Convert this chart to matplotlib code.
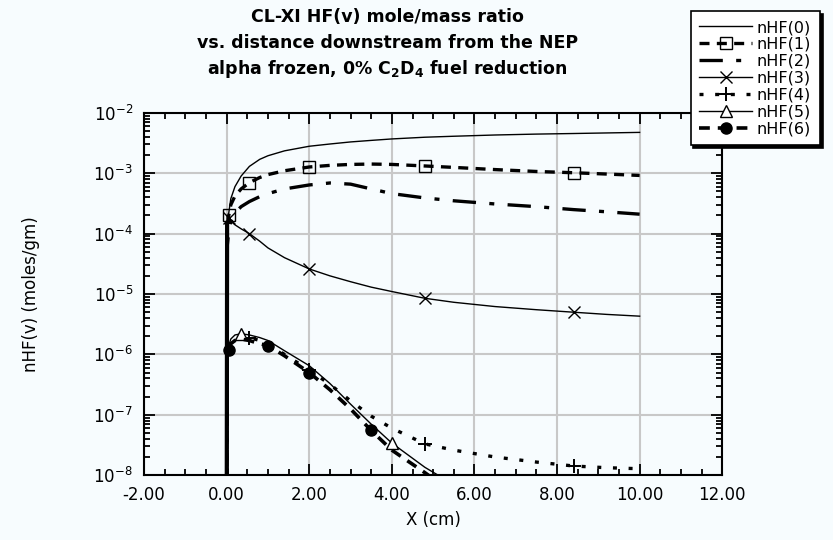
import numpy as np
import matplotlib.pyplot as plt
from matplotlib.ticker import MultipleLocator, FormatStrFormatter, LogLocator

# distance downstream (cm)
x = [0, 0.01, 0.05, 0.1, 0.2, 0.35, 0.55, 0.8, 1.0, 1.4, 2.0, 2.5, 3.0, 3.5,
     4.0, 4.8, 5.5, 6.5, 7.5, 8.4, 9.2, 10.0]

# HF(v) mole/mass ratio (moles/gm)
nhf0 = [1e-9, 1.2e-4, 2.2e-4, 3.8e-4, 6.0e-4, 9.0e-4, 1.3e-3, 1.7e-3, 1.95e-3, 2.35e-3,
        2.8e-3, 3.05e-3, 3.3e-3, 3.5e-3, 3.7e-3, 3.95e-3, 4.1e-3, 4.3e-3, 4.45e-3,
        4.55e-3, 4.65e-3, 4.75e-3]
nhf1 = [1e-9, 1.0e-4, 2.0e-4, 3.0e-4, 4.2e-4, 5.5e-4, 7.0e-4, 8.5e-4, 9.5e-4, 1.1e-3,
        1.27e-3, 1.35e-3, 1.4e-3, 1.42e-3, 1.4e-3, 1.32e-3, 1.25e-3, 1.15e-3, 1.07e-3,
        1.02e-3, 9.7e-4, 9.2e-4]
nhf2 = [1e-9, 6e-5, 1.1e-4, 1.6e-4, 2.2e-4, 2.8e-4, 3.4e-4, 4.1e-4, 4.6e-4, 5.5e-4,
        6.4e-4, 6.9e-4, 6.6e-4, 5.5e-4, 4.6e-4, 3.9e-4, 3.5e-4, 3.1e-4, 2.8e-4,
        2.5e-4, 2.3e-4, 2.1e-4]
nhf3 = [1e-9, 2.0e-4, 1.8e-4, 1.6e-4, 1.4e-4, 1.2e-4, 1.0e-4, 7.5e-5, 5.8e-5, 4.0e-5,
        2.6e-5, 2.0e-5, 1.6e-5, 1.3e-5, 1.1e-5, 8.5e-6, 7.3e-6, 6.2e-6, 5.5e-6,
        5.0e-6, 4.6e-6, 4.3e-6]
nhf4 = [1e-9, 1.0e-6, 1.3e-6, 1.6e-6, 1.9e-6, 2.0e-6, 1.9e-6, 1.7e-6, 1.5e-6, 1.0e-6,
        5.5e-7, 3.2e-7, 1.7e-7, 9.5e-8, 6.0e-8, 3.3e-8, 2.6e-8, 2.0e-8, 1.65e-8,
        1.42e-8, 1.33e-8, 1.28e-8]
nhf5 = [1e-9, 1.0e-6, 1.4e-6, 1.8e-6, 2.1e-6, 2.2e-6, 2.1e-6, 1.9e-6, 1.7e-6, 1.15e-6,
        6.5e-7, 3.3e-7, 1.5e-7, 7.0e-8, 3.4e-8, 1.35e-8, 7e-9, 3e-9, 1.5e-9,
        1e-9, 1e-9, 1e-9]
nhf6 = [1e-9, 9e-7, 1.2e-6, 1.5e-6, 1.7e-6, 1.8e-6, 1.7e-6, 1.5e-6, 1.4e-6, 9.5e-7,
        5.0e-7, 2.6e-7, 1.25e-7, 5.5e-8, 2.6e-8, 1.1e-8, 5e-9, 2e-9, 1e-9,
        1e-9, 1e-9, 1e-9]

labels = ["nHF(0)", "nHF(1)", "nHF(2)", "nHF(3)", "nHF(4)", "nHF(5)", "nHF(6)"]

bg = "#f7fcfe"
fig = plt.figure(figsize=(8.33, 5.40), dpi=100)
fig.patch.set_facecolor(bg)
ax = fig.add_axes([0.173, 0.120, 0.694, 0.671])
ax.set_facecolor(bg)

ax.plot(x, nhf0, color="k", lw=1.0, label=labels[0])
ax.plot(x, nhf1, color="k", lw=2.4, dashes=(3, 2.2), marker="s", ms=8, mfc="none",
        mew=1.0, markevery=[2, 6, 10, 15, 19], label=labels[1])
ax.plot(x, nhf2, color="k", lw=2.4, dashes=(7, 4, 1.5, 4), label=labels[2])
ax.plot(x, nhf3, color="k", lw=1.0, marker="x", ms=9, mew=1.0,
        markevery=[2, 6, 10, 15, 19], label=labels[3])
ax.plot(x, nhf4, color="k", lw=2.4, dashes=(1.2, 3.5), marker="+", ms=10, mew=1.4,
        markevery=[6, 10, 15, 19], label=labels[4])
ax.plot(x, nhf5, color="k", lw=1.0, marker="^", ms=8, mfc="white", mew=1.0,
        markevery=[5, 14], label=labels[5])
ax.plot(x, nhf6, color="k", lw=2.6, dashes=(3, 2.2), marker="o", ms=8,
        markevery=[2, 8, 10, 13], label=labels[6])
# the rise off the wall at x = 0 reads as one thick solid stroke
ax.plot(x[:2], [1e-9, 1.5e-4], color="k", lw=3.0)

ax.set_yscale("log")
ax.set_xlim(-2, 12)
ax.set_ylim(1e-8, 1e-2)
ax.xaxis.set_major_locator(MultipleLocator(2))
ax.xaxis.set_minor_locator(MultipleLocator(0.5))
ax.xaxis.set_major_formatter(FormatStrFormatter("%.2f"))
ax.yaxis.set_major_locator(LogLocator(base=10, numticks=10))
ax.yaxis.set_minor_locator(LogLocator(base=10, subs=np.arange(2, 10), numticks=10))
ax.tick_params(which="both", direction="in", top=True, right=True, width=1.3,
               labelsize=12, pad=8)
ax.tick_params(which="major", length=8)
ax.tick_params(which="minor", length=4)
ax.grid(True, which="major", color="#c8c8c8", lw=1.5)
ax.set_axisbelow(True)
for s in ax.spines.values():
    s.set_linewidth(1.5)

ax.set_xlabel("X (cm)", fontsize=12, labelpad=5)
ax.set_ylabel("nHF(v) (moles/gm)", fontsize=12, labelpad=38)

fig.text(0.465, 0.968, "CL-XI HF(v) mole/mass ratio", ha="center", va="center",
         fontsize=12.5, fontweight="bold")
fig.text(0.465, 0.921, "vs. distance downstream from the NEP", ha="center",
         va="center", fontsize=12.5, fontweight="bold")
fig.text(0.465, 0.872, r"alpha frozen, 0% C$_{\mathbf{2}}$D$_{\mathbf{4}}$ fuel reduction",
         ha="center", va="center", fontsize=12.5, fontweight="bold")

leg = fig.legend(loc="upper right", bbox_to_anchor=(0.994, 0.994), fontsize=11.5,
                 handlelength=3.3, numpoints=1, fancybox=False, framealpha=1,
                 edgecolor="k", facecolor="white",
                 shadow={"color": "black", "alpha": 1},
                 labelspacing=0.12, borderpad=0.55, handletextpad=0.3)
leg.get_frame().set_linewidth(1.2)

fig.savefig("out.png", dpi=100, facecolor=fig.get_facecolor())
